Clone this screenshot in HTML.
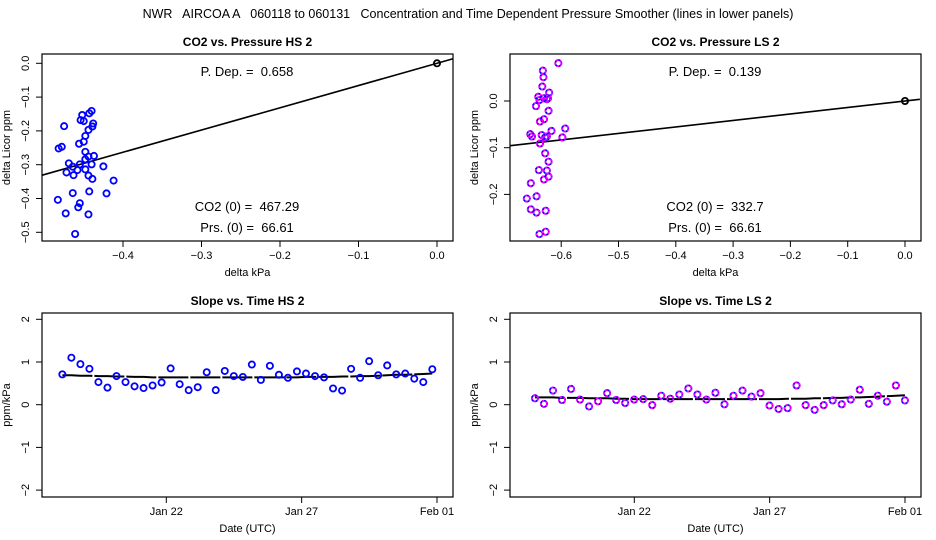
<!DOCTYPE html>
<html><head><meta charset="utf-8"><style>
body{margin:0;background:#fff;}
svg{display:block;font-family:"Liberation Sans",Arial,sans-serif;}
svg text{white-space:pre;}
</style></head><body>
<svg id="chart" width="936" height="540" viewBox="0 0 936 540">
<rect width="936" height="540" fill="#fff"/>
<text x="468" y="18" font-size="12.5" text-anchor="middle" xml:space="preserve">NWR   AIRCOA A   060118 to 060131   Concentration and Time Dependent Pressure Smoother (lines in lower panels)</text>
</svg>
<script>
// ---- data ----
const hsPressX = [-0.440,-0.443,-0.452,-0.454,-0.450,-0.438,-0.439,-0.444,-0.448,-0.450,-0.456,-0.475,-0.478,-0.482,-0.448,-0.437,-0.444,-0.448,-0.469,-0.440,-0.455,-0.425,-0.464,-0.448,-0.458,-0.472,-0.463,-0.444,-0.439,-0.412,-0.421,-0.443,-0.464,-0.483,-0.455,-0.457,-0.473,-0.444,-0.461];
const hsCO2Y = [-0.141,-0.148,-0.153,-0.168,-0.171,-0.178,-0.187,-0.197,-0.215,-0.232,-0.238,-0.186,-0.247,-0.252,-0.262,-0.274,-0.276,-0.284,-0.296,-0.299,-0.299,-0.305,-0.306,-0.314,-0.316,-0.323,-0.331,-0.332,-0.342,-0.347,-0.385,-0.379,-0.384,-0.404,-0.414,-0.426,-0.444,-0.447,-0.505];
const hsPDep = 0.658;
const lsPressX = [-0.605,-0.632,-0.631,-0.633,-0.621,-0.640,-0.630,-0.625,-0.623,-0.638,-0.644,-0.622,-0.630,-0.637,-0.593,-0.617,-0.654,-0.651,-0.634,-0.628,-0.625,-0.598,-0.637,-0.628,-0.622,-0.639,-0.625,-0.622,-0.630,-0.653,-0.660,-0.643,-0.653,-0.643,-0.627,-0.638,-0.627];
const lsCO2Y = [0.081,0.065,0.051,0.031,0.018,0.009,0.006,0.004,0.006,0.002,-0.011,-0.021,-0.039,-0.044,-0.059,-0.064,-0.071,-0.076,-0.073,-0.078,-0.076,-0.078,-0.091,-0.112,-0.130,-0.148,-0.149,-0.162,-0.168,-0.176,-0.209,-0.204,-0.232,-0.239,-0.235,-0.285,-0.280];
const lsPDep = 0.139;
const hsSlopes = [0.71,1.10,0.95,0.84,0.53,0.40,0.67,0.53,0.43,0.39,0.45,0.52,0.85,0.48,0.34,0.41,0.76,0.34,0.79,0.67,0.65,0.94,0.58,0.91,0.70,0.63,0.78,0.73,0.67,0.64,0.38,0.33,0.84,0.63,1.02,0.69,0.92,0.71,0.73,0.61,0.53,0.83];
const hsSmooth = [0.69,0.69,0.68,0.68,0.67,0.67,0.66,0.66,0.65,0.65,0.64,0.64,0.64,0.64,0.64,0.64,0.64,0.64,0.64,0.64,0.64,0.64,0.64,0.64,0.64,0.64,0.64,0.65,0.65,0.65,0.65,0.66,0.66,0.67,0.67,0.68,0.69,0.70,0.70,0.71,0.72,0.73];
const lsSlopes = [0.15,0.02,0.33,0.11,0.37,0.12,-0.04,0.08,0.27,0.11,0.04,0.12,0.13,-0.01,0.21,0.14,0.24,0.38,0.24,0.12,0.28,0.01,0.21,0.33,0.19,0.27,-0.02,-0.10,-0.08,0.45,-0.01,-0.12,-0.01,0.10,0.01,0.12,0.35,0.02,0.21,0.07,0.45,0.10];
const lsSmooth = [0.17,0.17,0.17,0.16,0.16,0.16,0.15,0.15,0.15,0.14,0.14,0.13,0.13,0.13,0.13,0.13,0.13,0.13,0.13,0.13,0.13,0.13,0.13,0.13,0.13,0.13,0.13,0.13,0.14,0.14,0.14,0.15,0.15,0.16,0.16,0.17,0.17,0.18,0.19,0.20,0.21,0.22];
const hsStartDay = -3.84, lsStartDay = -3.67; // days relative to Jan 22
const dateTicks = [0,5,10];
const dateTickLabels = ["Jan 22","Jan 27","Feb 01"];
const slopeTicks = [2,1,0,-1,-2];
const hsXTicks = [-0.4,-0.3,-0.2,-0.1,0.0];
const hsYTicks = [0.0,-0.1,-0.2,-0.3,-0.4,-0.5];
const lsXTicks = [-0.6,-0.5,-0.4,-0.3,-0.2,-0.1,0.0];
const lsYTicks = [0.0,-0.1,-0.2];

const svg = document.getElementById('chart');
const NS = 'http://www.w3.org/2000/svg';
function mk(tag, attrs, parent){const e=document.createElementNS(NS,tag);for(const k in attrs)e.setAttribute(k,attrs[k]);(parent||svg).appendChild(e);return e;}

function panel(o){
  const g = mk('g',{});
  
  
  const sx = v => o.x0 + (v - o.xv0)*o.xs;
  const sy = v => o.y0 - (v - o.yv0)*o.ys;
  const box = mk('rect',{x:o.L,y:o.T,width:o.R-o.L,height:o.B-o.T,fill:'none',stroke:'#000','stroke-width':1.2},g);
  
  
  const t = mk('text',{x:(o.L+o.R)/2,y:o.T-8,'font-size':12,'font-weight':'bold','text-anchor':'middle'},g);
  t.textContent = o.title;
  
  
  o.xTicks.forEach((v,i)=>{
    const x = sx(v);
    mk('line',{x1:x,x2:x,y1:o.B,y2:o.B+6,stroke:'#000'},g);
    const tl = mk('text',{x:x,y:o.B+18,'font-size':11,'text-anchor':'middle'},g);
    tl.textContent = o.xLabels ? o.xLabels[i] : (v===0?'0.0':v.toFixed(1).replace('-','\u2212'));
    
    
  });
  mk('line',{x1:sx(o.xTicks[0]),x2:sx(o.xTicks[o.xTicks.length-1]),y1:o.B,y2:o.B,stroke:'#000'},g);
  o.yTicks.forEach(v=>{
    const y = sy(v);
    mk('line',{x1:o.L,x2:o.L-6,y1:y,y2:y,stroke:'#000'},g);
    const tl = mk('text',{x:o.L-13,y:y,'font-size':11,'text-anchor':'middle',transform:`rotate(-90 ${o.L-13} ${y})`},g);
    tl.textContent = o.yInt ? String(v).replace('-','\u2212') : (v===0?'0.0':v.toFixed(1).replace('-','\u2212'));
    
    
  });
  mk('line',{x1:o.L,x2:o.L,y1:sy(o.yTicks[0]),y2:sy(o.yTicks[o.yTicks.length-1]),stroke:'#000'},g);
  const xl = mk('text',{x:(o.L+o.R)/2,y:o.B+35,'font-size':11,'text-anchor':'middle'},g);
  xl.textContent = o.xTitle;
  
  
  const yx = o.L-32, yy=(o.T+o.B)/2;
  const yl = mk('text',{x:yx,y:yy,'font-size':11,'text-anchor':'middle',transform:`rotate(-90 ${yx} ${yy})`},g);
  yl.textContent = o.yTitle;
  
  
  return {g,sx,sy};
}

function pt(g,x,y,color,fill2){
  const c = mk('circle',{cx:x,cy:y,r:3.1,fill:'none',stroke:color,'stroke-width':1.8},g);
  
  
  if(fill2){ mk('circle',{cx:x,cy:y,r:3.1,fill:'none',stroke:fill2,'stroke-width':1.8,'stroke-dasharray':'2.5 1.5'},g); }
}
function txt(g,x,y,s,name){
  const t = mk('text',{x:x,y:y,'font-size':13,'text-anchor':'middle'},g);
  t.textContent = s;
  
  
}

(function(){
  const o = {name:'panel-co2-pressure-hs',L:42,R:453,T:54,B:241,x0:437,xv0:0,xs:785,y0:63.3,yv0:0,ys:338,
    xTicks:hsXTicks,yTicks:hsYTicks,title:'CO2 vs. Pressure HS 2',xTitle:'delta kPa',yTitle:'delta Licor ppm'};
  const p = panel(o);
  const xa=-0.503, xb=0.0204;
  const ln = mk('line',{x1:p.sx(xa),y1:p.sy(hsPDep*xa),x2:p.sx(xb),y2:p.sy(hsPDep*xb),stroke:'#000','stroke-width':1.6},p.g);
  
  
  hsPressX.forEach((v,i)=>pt(p.g,p.sx(v),p.sy(hsCO2Y[i]),'#0000ff'));
  pt(p.g,p.sx(0),p.sy(0),'#000');
  txt(p.g,247,76,'P. Dep. =  0.658','p-dep-label');
  txt(p.g,247,211,'CO2 (0) =  467.29','co2-zero-label');
  txt(p.g,247,232,'Prs. (0) =  66.61','prs-zero-label');
})();
(function(){
  const o = {name:'panel-co2-pressure-ls',L:510,R:921,T:54,B:241,x0:905,xv0:0,xs:573,y0:101,yv0:0,ys:467,
    xTicks:lsXTicks,yTicks:lsYTicks,title:'CO2 vs. Pressure LS 2',xTitle:'delta kPa',yTitle:'delta Licor ppm'};
  const p = panel(o);
  const xa=-0.689, xb=0.026;
  const ln = mk('line',{x1:p.sx(xa),y1:p.sy(lsPDep*xa),x2:p.sx(xb),y2:p.sy(lsPDep*xb),stroke:'#000','stroke-width':1.6},p.g);
  
  
  lsPressX.forEach((v,i)=>pt(p.g,p.sx(v),p.sy(lsCO2Y[i]),'#0000ff','#ff00ff'));
  pt(p.g,p.sx(0),p.sy(0),'#000');
  txt(p.g,715,76,'P. Dep. =  0.139','p-dep-label');
  txt(p.g,715,211,'CO2 (0) =  332.7','co2-zero-label');
  txt(p.g,715,232,'Prs. (0) =  66.61','prs-zero-label');
})();
function slopePanel(off,name,title,vals,smooth,start,col2){
  const o = {name:name,L:42+off,R:453+off,T:313,B:497,x0:166.3+off,xv0:0,xs:27.07,y0:404.7,yv0:0,ys:42.7,
    xTicks:dateTicks,xLabels:dateTickLabels,yTicks:slopeTicks,yInt:true,title:title,xTitle:'Date (UTC)',yTitle:'ppm/kPa'};
  const p = panel(o);
  let d='';
  smooth.forEach((v,i)=>{d+=(i?'L':'M')+p.sx(start+i/3).toFixed(1)+' '+p.sy(v).toFixed(1);});
  const ln = mk('path',{d:d,fill:'none',stroke:'#000','stroke-width':2,'stroke-dasharray':'30 2'},p.g);
  
  
  vals.forEach((v,i)=>pt(p.g,p.sx(start+i/3),p.sy(v),'#0000ff',col2));
}
slopePanel(0,'panel-slope-time-hs','Slope vs. Time HS 2',hsSlopes,hsSmooth,hsStartDay,null);
slopePanel(468,'panel-slope-time-ls','Slope vs. Time LS 2',lsSlopes,lsSmooth,lsStartDay,'#ff00ff');
</script>
</body></html>
